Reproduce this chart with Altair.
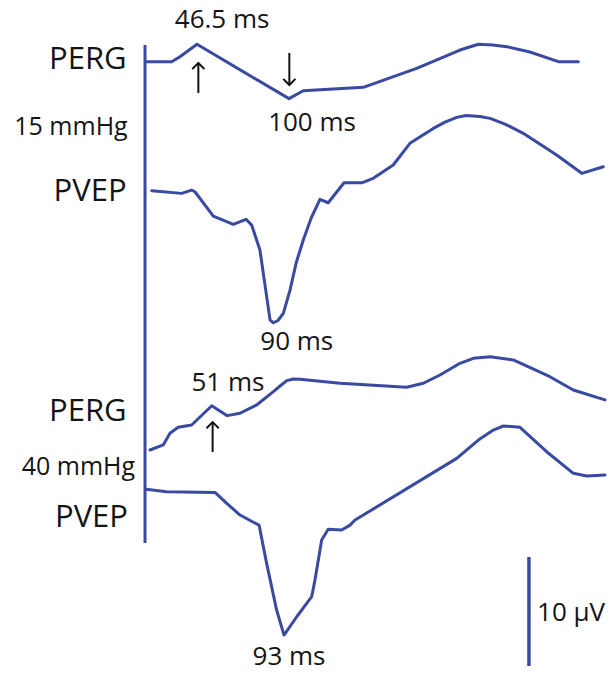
import altair as alt
import pandas as pd

# ---- waveform data: time (ms) and amplitude (µV) ----
perg15_t = [16.9, 31.8, 36.6, 46.5, 100.0, 108.3, 143.2, 174.2, 199.4, 210.1, 218.6, 226.6, 240.1, 256.6, 268.2]
perg15_a = [0, 0, 0.46, 1.60, -3.39, -2.66, -2.35, -0.61, 1.07, 1.60, 1.53, 1.38, 0.89, 0, 0]

pvep15_t = [20.2, 37.6, 43.4, 45.3, 56.0, 67.6, 75.0, 78.3, 83.1, 89.0, 90.9, 93.6, 96.7, 100.6, 104.2, 108.3,
            112.9, 118.0, 122.8, 132.0, 142.3, 149.0, 160.6, 170.3, 183.9, 190.7, 197.5, 202.9, 211.0, 216.9,
            225.6, 236.2, 255.6, 270.2, 282.7]
pvep15_a = [0, -0.24, 0.06, -0.09, -2.32, -3.08, -2.62, -3.15, -5.44, -11.87, -12.11, -11.90, -11.25, -9.11,
            -6.60, -4.52, -2.50, -0.79, -1.10, 0.73, 0.73, 1.14, 2.36, 4.35, 5.72, 6.30, 6.73, 6.90, 6.81, 6.64,
            6.12, 5.27, 3.28, 1.60, 2.20]

perg40_t = [19.2, 26.9, 30.8, 35.6, 43.4, 55.1, 64.1, 71.5, 81.2, 90.9, 94.8, 98.7, 102.5, 106.4, 129.7, 168.4,
            178.1, 187.8, 199.4, 207.2, 216.9, 230.4, 251.7, 265.3, 283.7]
perg40_a = [0, 0.46, 1.53, 2.08, 2.29, 4.06, 3.15, 3.37, 4.13, 5.35, 5.87, 6.36, 6.51, 6.49, 6.12, 5.75,
            6.12, 6.88, 7.95, 8.41, 8.56, 8.26, 6.72, 5.50, 4.59]

pvep40_t = [16.9, 28.9, 57.0, 63.8, 71.5, 81.2, 82.6, 87.0, 92.8, 97.1, 104.5, 113.2, 115.1, 119.0, 122.8,
            130.6, 135.5, 138.4, 197.5, 210.1, 218.8, 224.6, 234.3, 249.8, 265.3, 273.1, 283.7]
pvep40_a = [0, -0.22, -0.28, -1.28, -2.36, -3.18, -3.28, -6.79, -11.07, -13.37, -11.69, -9.85, -8.32, -4.65, -3.67,
            -3.73, -3.28, -2.82, 2.84, 4.52, 5.44, 5.81, 5.69, 3.45, 1.47, 1.22, 1.31]

# vertical display offsets of each trace (µV)
trace_names = ["PERG 15", "PVEP 15", "PERG 40", "PVEP 40"]
trace_offsets = [-5.66, -17.50, -41.28, -44.89]

# labels
left_labels = ["PERG", "15 mmHg", "PVEP", "PERG", "40 mmHg", "PVEP"]
left_t = [5.6, 6.2, 5.6, 5.6, 10.5, 6.4]
left_v = [-5.50, -11.65, -17.61, -37.80, -42.84, -47.52]
left_size = [31, 25, 31, 31, 25, 31]

peak_labels = ["46.5 ms", "100 ms", "90 ms", "51 ms", "93 ms"]
peak_t = [61.1, 113.4, 104.5, 64.5, 100.0]
peak_v = [-1.83, -11.28, -31.38, -35.14, -60.30]

# arrows: time, tail, tip, direction
arrow_t = [47.3, 100.2, 55.6]
arrow_tail = [-8.53, -4.86, -41.47]
arrow_tip = [-5.78, -7.80, -38.72]
arrow_dir = ["up", "down", "up"]

# axis line and 10 µV scale bar
axis_t, axis_v1, axis_v2 = 16.3, -4.13, -49.82
bar_t, bar_v1, bar_v2 = 239.5, -51.1, -61.1
bar_label = "10 µV"
bar_label_t, bar_label_v = 244.2, -56.24

BLUE = "#3a4aa2"
TXT = "#141414"

frames = []
for name, off, ts, as_ in zip(trace_names, trace_offsets,
                               [perg15_t, pvep15_t, perg40_t, pvep40_t],
                               [perg15_a, pvep15_a, perg40_a, pvep40_a]):
    frames.append(pd.DataFrame({"trace": name, "t": ts, "v": [off + a for a in as_], "i": range(len(ts))}))
waves = pd.concat(frames, ignore_index=True)

xs = alt.Scale(domain=[-68.02, 287.21], nice=False, zero=False)
ys = alt.Scale(domain=[-61.74, 0], nice=False, zero=False)
X = lambda f: alt.X(f, type="quantitative", scale=xs, axis=None)
Y = lambda f: alt.Y(f, type="quantitative", scale=ys, axis=None)

lines = alt.Chart(waves).mark_line(color=BLUE, strokeWidth=3, strokeJoin="round", strokeCap="round").encode(
    x=X("t"), y=Y("v"), detail="trace:N", order="i:Q")

misc = pd.DataFrame({"t": [axis_t, bar_t], "v1": [axis_v1, bar_v1], "v2": [axis_v2, bar_v2],
                     "w": [3, 3.5]})
rules = alt.Chart(misc).mark_rule(color=BLUE).encode(
    x=X("t"), y=Y("v1"), y2="v2", strokeWidth=alt.StrokeWidth("w:Q", scale=None))

left = pd.DataFrame({"text": left_labels, "t": left_t, "v": left_v, "s": left_size})
left_txt = alt.Chart(left).mark_text(align="right", baseline="middle", font="Open Sans", color=TXT).encode(
    x=X("t"), y=Y("v"), text="text:N", size=alt.Size("s:Q", scale=None))

peaks = pd.DataFrame({"text": peak_labels, "t": peak_t, "v": peak_v})
peak_txt = alt.Chart(peaks).mark_text(align="center", baseline="middle", font="Open Sans", fontSize=26,
                                      color=TXT).encode(x=X("t"), y=Y("v"), text="text:N")

bar_df = pd.DataFrame({"text": [bar_label], "t": [bar_label_t], "v": [bar_label_v]})
bar_txt = alt.Chart(bar_df).mark_text(align="left", baseline="middle", font="Open Sans", fontSize=26,
                                      color=TXT).encode(x=X("t"), y=Y("v"), text="text:N")

arrows = pd.DataFrame({"t": arrow_t, "tail": arrow_tail, "tip": arrow_tip, "dir": arrow_dir})
shafts = alt.Chart(arrows).mark_rule(color="#111111", strokeWidth=2).encode(x=X("t"), y=Y("tail"), y2="tip")
head_up = alt.Chart(arrows).transform_filter(alt.datum.dir == "up").mark_point(
    shape="M -1 1 L 0 0 L 1 1", size=150, filled=False, color="#111111", strokeWidth=2, opacity=1
).encode(x=X("t"), y=Y("tip"))
head_down = alt.Chart(arrows).transform_filter(alt.datum.dir == "down").mark_point(
    shape="M -1 -1 L 0 0 L 1 -1", size=150, filled=False, color="#111111", strokeWidth=2, opacity=1
).encode(x=X("t"), y=Y("tip"))

chart = alt.layer(lines, rules, shafts, head_up, head_down, left_txt, peak_txt, bar_txt).properties(
    width=611, height=673, padding=0, autosize=alt.AutoSizeParams(type="none"), background="white"
).configure_view(stroke=None)

chart.save("out.html", embed_options={"renderer": "svg", "actions": False})
